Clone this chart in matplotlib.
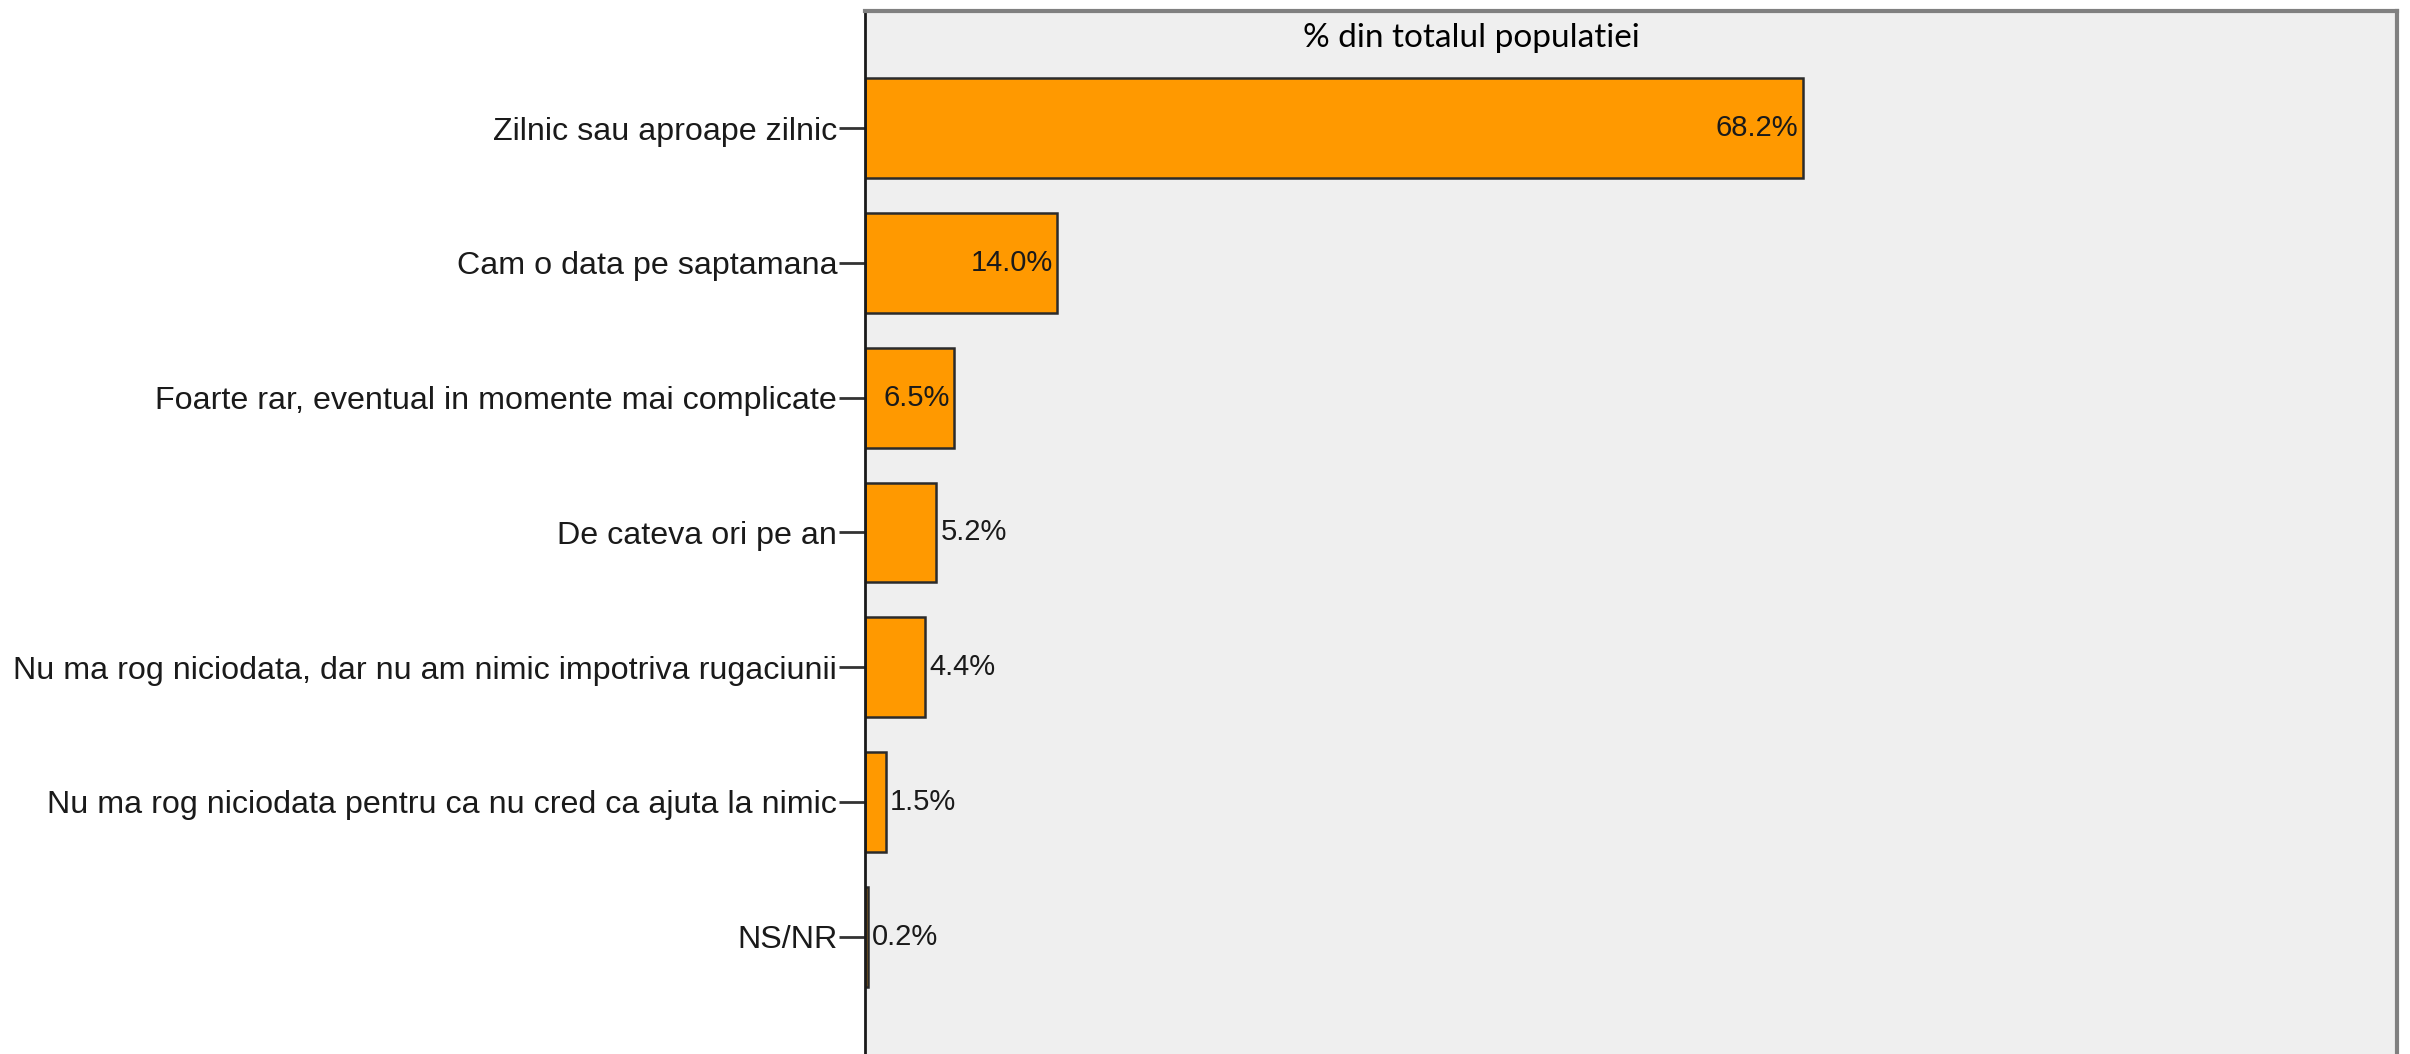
import numpy as np
import matplotlib.pyplot as plt

categories = [
    "Zilnic sau aproape zilnic",
    "Cam o data pe saptamana",
    "Foarte rar, eventual in momente mai complicate",
    "De cateva ori pe an",
    "Nu ma rog niciodata, dar nu am nimic impotriva rugaciunii",
    "Nu ma rog niciodata pentru ca nu cred ca ajuta la nimic",
    "NS/NR",
]
values = [68.2, 14.0, 6.5, 5.2, 4.4, 1.5, 0.2]
title = "% din totalul populatiei"

plt.rcParams['font.family'] = ['Liberation Sans', 'DejaVu Sans']

fig = plt.figure(figsize=(24.1, 10.54), dpi=100)
ax = fig.add_axes([0.3589, 0.0, 0.6357, 0.9896])
ax.set_facecolor('#efefef')

y = np.arange(len(categories))
bars = ax.barh(y, values, height=0.74, color='#ff9900', edgecolor='#2b2b2b', linewidth=1.8)

ax.set_ylim(6.87, -0.87)
ax.set_xlim(0, 111.4)

ax.set_yticks(y)
ax.set_yticklabels(categories, fontsize=23.2, color='#1a1a1a')
ax.tick_params(axis='y', length=19, width=2, color='#333333', pad=1)
ax.set_xticks([])

# value labels: inside the bar when it fits, otherwise just right of it
for yi, v in zip(y, values):
    if v > 6:
        ax.text(v - 0.35, yi, "%.1f%%" % v, ha='right', va='center', fontsize=21, color='#1a1a1a')
    else:
        ax.text(v + 0.3, yi, "%.1f%%" % v, ha='left', va='center', fontsize=21, color='#1a1a1a')

ax.text(0.396, 0.974, title, transform=ax.transAxes, ha='center', va='center',
        fontsize=24, family=['Lato', 'DejaVu Sans'], color='black')

ax.spines['bottom'].set_visible(False)
ax.spines['left'].set_color('#1a1a1a')
ax.spines['left'].set_linewidth(2)
for s in ['top', 'right']:
    ax.spines[s].set_color('#808080')
    ax.spines[s].set_linewidth(3)

fig.savefig('out.png', dpi=100)
